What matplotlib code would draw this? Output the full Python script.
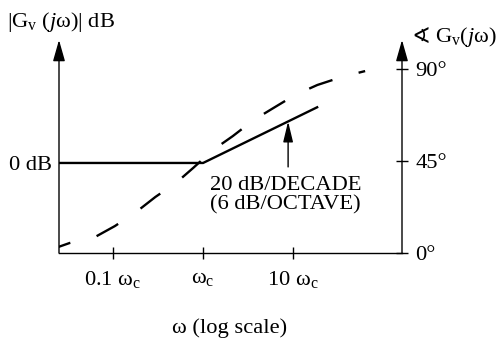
import matplotlib.pyplot as plt

plt.rcParams['font.family'] = ['Liberation Serif', 'DejaVu Sans']
plt.rcParams['mathtext.fontset'] = 'custom'
plt.rcParams['mathtext.rm'] = 'Liberation Serif'
plt.rcParams['mathtext.it'] = 'Liberation Serif:italic'

# magnitude asymptote (omega / omega_c, dB)
mag_w = [0.025, 1.0, 19.0]
mag_db = [0, 0, 25.6]

# phase curve (omega / omega_c, degrees)
phase_w = [0.0245, 0.033, 0.063, 0.105, 0.186, 0.295, 0.513, 0.776,
           1.29, 2.14, 3.63, 6.03, 10.5, 18.6, 34.7, 63.1]
phase_deg = [2.9, 4.9, 7.8, 13.2, 20.5, 27.4, 34.7, 41.6,
             50.4, 57.2, 65.0, 70.9, 77.3, 82.2, 86.1, 89.0]

x_ticks = [0.1, 1, 10]
x_labels = [r'0.1 ω$_\mathrm{c}$', r'ω$_\mathrm{c}$', r'10 ω$_\mathrm{c}$']
ph_ticks = [0, 45, 90]
ph_labels = ['0°', '45°', '90°']

fs = 16.2
W, H = 499, 341
fig = plt.figure(figsize=(W / 100, H / 100), dpi=100)
ax = fig.add_axes([59 / W, 1 - 253 / H, (402 - 59) / W, (253 - 40) / H])
ax2 = ax.twinx()

ax.plot(mag_w, mag_db, color='k', lw=1.7, solid_capstyle='butt')
ax2.plot(phase_w, phase_deg, color='k', lw=1.7, linestyle=(5, (10.5, 11.5)),
         dash_capstyle='butt')

ax.set_xscale('log')
ax.set_xlim(0.0251, 162)
ax.set_ylim(-41, 56)
ax2.set_ylim(0, 104.2)

for a in (ax, ax2):
    for s in ('top', 'left', 'right'):
        a.spines[s].set_visible(False)
ax.spines['bottom'].set_linewidth(1.0)
ax2.spines['bottom'].set_visible(False)

ax.set_xticks(x_ticks)
ax.set_xticklabels(x_labels, fontsize=fs)
ax.minorticks_off()
ax.tick_params(axis='x', direction='inout', length=9, width=1, pad=7)
ax.set_yticks([0])
ax.set_yticklabels(['0 dB'], fontsize=fs)
ax.tick_params(axis='y', length=0, pad=5)

ax2.set_yticks(ph_ticks)
ax2.set_yticklabels(ph_labels, fontsize=fs)
ax2.tick_params(axis='y', direction='inout', length=9, width=1, pad=5)

# vertical axes drawn as arrows
for xf in (0, 1):
    ax.annotate('', xy=(xf, 1), xytext=(xf, 0), xycoords='axes fraction',
                arrowprops=dict(arrowstyle='-|>,head_length=1.3,head_width=0.37',
                                lw=1.0, color='k', shrinkA=0, shrinkB=0,
                                mutation_scale=10))

# slope annotation
ax.annotate('', xy=(8.8, 18.9), xytext=(8.8, -1.8),
            arrowprops=dict(arrowstyle='-|>,head_length=1.25,head_width=0.3',
                            lw=1.0, color='k', shrinkA=0, shrinkB=0,
                            mutation_scale=10))
ax.text(8.2, -14.6, '20 dB/DECADE\n(6 dB/OCTAVE)', fontsize=fs, ha='center',
        va='center', linespacing=1.0)

fig.text(7 / W, 1 - 22 / H, r'$|\mathrm{G}_\mathrm{v}\ (j$ω$)|$ dB', fontsize=fs,
         ha='left', va='center')
fig.text(411 / W, 1 - 37 / H, '∢', fontsize=fs, family='DejaVu Sans',
         ha='left', va='center')
fig.text(435 / W, 1 - 37 / H, r'G$_\mathrm{v}$($j$ω)', fontsize=fs,
         ha='left', va='center')
fig.text(230 / W, 1 - 328 / H, 'ω (log scale)', fontsize=fs, ha='center',
         va='center')

fig.savefig('out.png', dpi=100)
